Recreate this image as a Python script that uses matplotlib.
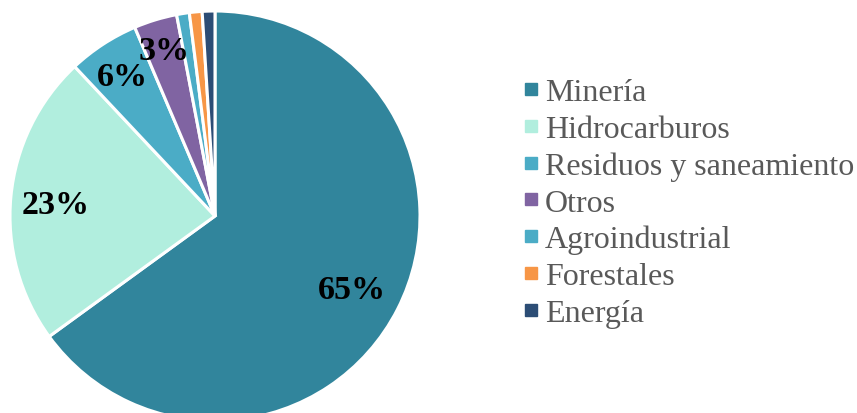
import matplotlib
matplotlib.use("Agg")
import matplotlib.pyplot as plt
from matplotlib.lines import Line2D
import numpy as np

categories = ["Minería", "Hidrocarburos", "Residuos y saneamiento", "Otros",
              "Agroindustrial", "Forestales", "Energía"]
values = [65, 23, 5.6, 3.4, 1.0, 1.0, 1.0]
colors = ["#31859C", "#B1EEDE", "#4BACC6", "#8064A2", "#4BACC6", "#F79646", "#2C4D75"]
label_dist = [0.75, 0.78, 0.83, 0.86, 0, 0, 0]

plt.rcParams['font.family'] = ['Liberation Serif', 'DejaVu Serif']

fig = plt.figure(figsize=(8.57, 4.14), dpi=100)
R = 205
cx, cy = 215, 414 - 217
ax = fig.add_axes([(cx - R) / 857, (cy - R) / 414, 2 * R / 857, 2 * R / 414])

wedges, _ = ax.pie(values, colors=colors, startangle=90, counterclock=False,
                   wedgeprops=dict(edgecolor="white", linewidth=2.2), radius=1)
ax.set_xlim(-1, 1)
ax.set_ylim(-1, 1)
ax.set_aspect('equal')
ax.axis('off')

for w, v, d in zip(wedges, values, label_dist):
    if v < 2:
        continue
    ang = np.deg2rad((w.theta1 + w.theta2) / 2)
    ax.text(d * np.cos(ang), d * np.sin(ang), f"{round(v):d}%",
            ha='center', va='center_baseline', fontsize=24.5, fontweight='bold',
            color='black')

handles = [Line2D([0], [0], marker='s', linestyle='none', markersize=8,
                  markerfacecolor=c, markeredgecolor=c) for c in colors]
leg = fig.legend(handles, categories, loc='upper left',
                 bbox_to_anchor=(505 / 857, 1 - 63 / 414), frameon=False,
                 fontsize=23, labelcolor='#595959', handlelength=0.6,
                 handletextpad=0.15, labelspacing=0.23, borderpad=0)

fig.savefig("out.png", dpi=100)
